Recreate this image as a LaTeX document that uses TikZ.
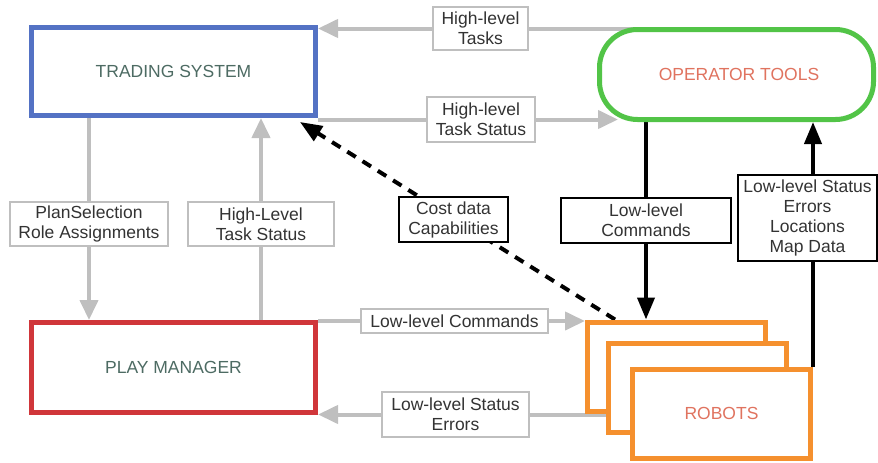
\documentclass[tikz,border=0pt]{standalone}
\usepackage{fontspec}
\setmainfont{Liberation Sans}
\usetikzlibrary{arrows.meta}
\pgfdeclarelayer{background}
\pgfsetlayers{background,main}
\definecolor{tsblue}{HTML}{5472C4}
\definecolor{pmred}{HTML}{D0363A}
\definecolor{otgreen}{HTML}{52C447}
\definecolor{robor}{HTML}{F5902E}
\definecolor{lgray}{HTML}{BFBFBF}
\definecolor{maintext}{HTML}{4D6B63}
\definecolor{salmon}{HTML}{E0735F}
\definecolor{labeltext}{HTML}{333333}
\begin{document}
\begin{tikzpicture}[x=1pt,y=-1pt,
  every node/.style={inner sep=0pt, font=\fontsize{17.5}{20}\selectfont, align=center},
  mainbox/.style={draw, line width=5pt, fill=white},
  robotbox/.style={mainbox, draw=robor, minimum width=178pt, minimum height=89pt},
  glabel/.style={draw=lgray, line width=2.5pt, fill=white, text=labeltext},
  blabel/.style={draw=black, line width=2.5pt, fill=white, text=labeltext},
  garrow/.style={draw=lgray, line width=4pt, -{Triangle[length=20pt,width=18pt]}},
  barrow/.style={draw=black, line width=4pt, -{Triangle[length=22pt,width=17pt]}},
  darrow/.style={draw=black, line width=4pt, dash pattern=on 10pt off 8pt, -{Triangle[length=22pt,width=17pt]}}
]
\useasboundingbox (0,0) rectangle (878,463);

% main nodes
\node[mainbox, draw=tsblue, text=maintext, minimum width=284pt, minimum height=88pt] (ts) at (173.5,71.5) {TRADING SYSTEM};
\node[mainbox, draw=pmred, text=maintext, minimum width=284pt, minimum height=90pt] (pm) at (173.5,367.5) {PLAY MANAGER};
\node[mainbox, draw=otgreen, text=salmon, rounded corners=38pt, minimum width=274pt, minimum height=90pt] (ot) at (736.5,74.5) {\hspace*{5pt}OPERATOR TOOLS};
\node[robotbox] (back) at (676.5,366.5) {};
\node[robotbox] (mid) at (697,387.5) {};
\node[robotbox, text=salmon] (front) at (721.5,413.5) {ROBOTS};

% labels
\node[glabel, minimum width=95pt, minimum height=43pt] (hlt) at (480.5,28.5) {High-level\\Tasks};
\node[glabel, minimum width=108pt, minimum height=45pt] (hlts) at (481,119.5) {High-level\\Task Status};
\node[glabel, minimum width=158pt, minimum height=44pt] (ps) at (89,224) {PlanSelection\\Role Assignments};
\node[glabel, minimum width=146pt, minimum height=44pt] (hlts2) at (261,224) {High-Level\\Task Status};
\node[blabel, minimum width=109pt, minimum height=45pt] (cost) at (453.5,219.5) {Cost data\\Capabilities};
\node[blabel, minimum width=170pt, minimum height=45pt] (llcb) at (646,220.5) {Low-level\\Commands};
\node[blabel, minimum width=139pt, minimum height=86pt] (lls) at (807.5,218) {Low-level Status\\Errors\\Locations\\Map Data};
\node[glabel, minimum width=187pt, minimum height=24pt] (llcg) at (454.5,321) {Low-level Commands};
\node[glabel, minimum width=147pt, minimum height=45pt] (llse) at (455.5,414.5) {Low-level Status\\Errors};

\begin{pgfonlayer}{background}
\draw[garrow] (ot.center |- hlt.center) -- (ts.east |- hlt.center);
\draw[garrow] (ts.east |- hlts.center) -- ([xshift=21pt]ot.west |- hlts.center);
\draw[garrow] (ps.center |- ts.south) -- (ps.center |- pm.north);
\draw[garrow] (hlts2.center |- pm.north) -- (hlts2.center |- ts.south);
\draw[garrow] (pm.east |- llcg.center) -- (back.west |- llcg.center);
\draw[garrow] (back.center |- llse.center) -- (pm.east |- llse.center);
\draw[barrow] (llcb.center |- ot.south) -- (llcb.center |- back.north);
\draw[barrow] (front.north east) -- (front.north east |- ot.south);
\draw[darrow] ([xshift=30pt]back.north west) -- ([xshift=-18pt,yshift=-4pt]ts.south east);
\end{pgfonlayer}
\end{tikzpicture}
\end{document}
